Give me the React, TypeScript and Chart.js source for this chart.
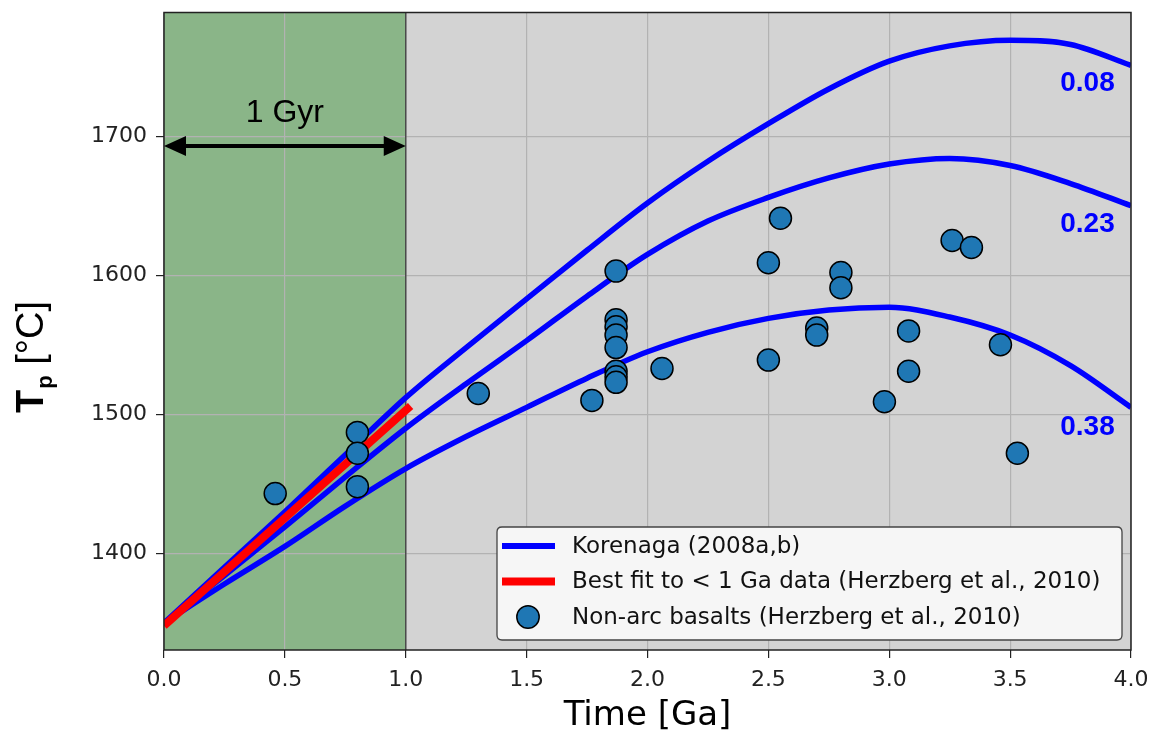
import React, { useEffect, useRef } from "react";
import { Chart, registerables } from "chart.js";

Chart.register(...registerables);

// ---- data ----
const xTickValues = [0, 0.5, 1, 1.5, 2, 2.5, 3, 3.5, 4];
const yTickValues = [1400, 1500, 1600, 1700];

const korenagaX = [0, 0.25, 0.5, 0.75, 1, 1.25, 1.5, 1.75, 2, 2.25, 2.5, 2.75, 3, 3.25, 3.5, 3.75, 4];
const korenaga008 = [1350, 1390, 1430, 1471, 1512, 1548, 1583, 1618, 1652, 1682, 1709, 1734, 1754, 1765, 1769, 1766, 1751];
const korenaga023 = [1350, 1384, 1419, 1455, 1490, 1522, 1553, 1585, 1615, 1639, 1656, 1670, 1680, 1684, 1679, 1666, 1650];
const korenaga038 = [1350, 1378, 1405, 1434, 1461, 1484, 1505, 1526, 1545, 1559, 1569, 1575, 1577, 1570, 1557, 1535, 1505];

const fitX = [0, 1.02];
const fitY = [1348, 1506];

const basaltX = [0.46, 0.8, 0.8, 0.8, 1.3, 1.77, 1.87, 1.87, 1.87, 1.87, 1.87, 1.87, 1.87, 1.87, 2.06, 2.5, 2.5, 2.55, 2.7, 2.7, 2.8, 2.8, 2.98, 3.08, 3.08, 3.26, 3.34, 3.46, 3.53];
const basaltY = [1443, 1487, 1472, 1448, 1515, 1510, 1603, 1568, 1563, 1557, 1548, 1531, 1527, 1523, 1533, 1609, 1539, 1641, 1562, 1557, 1602, 1591, 1509, 1560, 1531, 1625, 1620, 1550, 1472];

const curveLabels = ["0.08", "0.23", "0.38"];
const curveLabelX = [3.82, 3.82, 3.82];
const curveLabelY = [1738, 1637, 1491];

const legendLabels = [
  "Korenaga (2008a,b)",
  "Best fit to < 1 Ga data (Herzberg et al., 2010)",
  "Non-arc basalts (Herzberg et al., 2010)",
];

const BLUE = "#0000ff";
const RED = "#ff0000";
const PT = "#1f77b4";

const pts = (xs: number[], ys: number[]) => xs.map((x, i) => ({ x, y: ys[i] }));

const decorPlugin = {
  id: "decor",
  beforeDraw(chart: any) {
    const { ctx, chartArea: a, scales } = chart;
    const xs = scales.x;
    const x1 = xs.getPixelForValue(1);
    ctx.save();
    ctx.fillStyle = "#d3d3d3";
    ctx.fillRect(a.left, a.top, a.right - a.left, a.bottom - a.top);
    ctx.fillStyle = "#8ab588";
    ctx.fillRect(a.left, a.top, x1 - a.left, a.bottom - a.top);
    ctx.restore();
  },
  beforeDatasetsDraw(chart: any) {
    const { ctx, chartArea: a, scales } = chart;
    const x1 = scales.x.getPixelForValue(1);
    ctx.save();
    ctx.strokeStyle = "#4a4a4a";
    ctx.lineWidth = 1.5;
    ctx.beginPath();
    ctx.moveTo(x1, a.top);
    ctx.lineTo(x1, a.bottom);
    ctx.stroke();
    ctx.restore();
  },
  afterDatasetsDraw(chart: any) {
    const { ctx, chartArea: a, scales } = chart;
    const xs = scales.x;
    const ys = scales.y;
    ctx.save();
    // spines
    ctx.strokeStyle = "#222";
    ctx.lineWidth = 1.5;
    ctx.strokeRect(a.left, a.top, a.right - a.left, a.bottom - a.top);

    // arrow
    const ay = ys.getPixelForValue(1693);
    const ax0 = xs.getPixelForValue(0);
    const ax1 = xs.getPixelForValue(1);
    const hl = 22;
    const hw = 10;
    ctx.strokeStyle = "#000";
    ctx.fillStyle = "#000";
    ctx.lineWidth = 4;
    ctx.beginPath();
    ctx.moveTo(ax0 + hl - 2, ay);
    ctx.lineTo(ax1 - hl + 2, ay);
    ctx.stroke();
    ctx.beginPath();
    ctx.moveTo(ax0, ay);
    ctx.lineTo(ax0 + hl, ay - hw);
    ctx.lineTo(ax0 + hl, ay + hw);
    ctx.closePath();
    ctx.fill();
    ctx.beginPath();
    ctx.moveTo(ax1, ay);
    ctx.lineTo(ax1 - hl, ay - hw);
    ctx.lineTo(ax1 - hl, ay + hw);
    ctx.closePath();
    ctx.fill();

    ctx.font = "32px 'Liberation Sans', Arial, sans-serif";
    ctx.textAlign = "center";
    ctx.textBaseline = "alphabetic";
    ctx.fillText("1 Gyr", xs.getPixelForValue(0.5), ys.getPixelForValue(1710));

    // curve labels
    ctx.fillStyle = BLUE;
    ctx.font = "bold 28px 'Liberation Sans', Arial, sans-serif";
    ctx.textBaseline = "middle";
    curveLabels.forEach((t, i) => {
      ctx.fillText(t, xs.getPixelForValue(curveLabelX[i]), ys.getPixelForValue(curveLabelY[i]));
    });
    ctx.restore();
  },
  afterDraw(chart: any) {
    const { ctx, chartArea: a } = chart;
    ctx.save();
    // legend
    const lx = 497, ly = 527, lw = 625, lh = 113, r = 5;
    ctx.fillStyle = "rgba(246,246,246,1)";
    ctx.strokeStyle = "#444";
    ctx.lineWidth = 1.3;
    ctx.beginPath();
    ctx.moveTo(lx + r, ly);
    ctx.lineTo(lx + lw - r, ly);
    ctx.quadraticCurveTo(lx + lw, ly, lx + lw, ly + r);
    ctx.lineTo(lx + lw, ly + lh - r);
    ctx.quadraticCurveTo(lx + lw, ly + lh, lx + lw - r, ly + lh);
    ctx.lineTo(lx + r, ly + lh);
    ctx.quadraticCurveTo(lx, ly + lh, lx, ly + lh - r);
    ctx.lineTo(lx, ly + r);
    ctx.quadraticCurveTo(lx, ly, lx + r, ly);
    ctx.closePath();
    ctx.fill();
    ctx.stroke();

    const rows = [546, 581.5, 617];
    ctx.lineCap = "butt";
    ctx.strokeStyle = BLUE;
    ctx.lineWidth = 6;
    ctx.beginPath();
    ctx.moveTo(502, rows[0]);
    ctx.lineTo(555, rows[0]);
    ctx.stroke();
    ctx.strokeStyle = RED;
    ctx.lineWidth = 8;
    ctx.beginPath();
    ctx.moveTo(502, rows[1]);
    ctx.lineTo(555, rows[1]);
    ctx.stroke();
    ctx.fillStyle = PT;
    ctx.strokeStyle = "#000";
    ctx.lineWidth = 1.5;
    ctx.beginPath();
    ctx.arc(528, rows[2], 11.2, 0, Math.PI * 2);
    ctx.fill();
    ctx.stroke();

    ctx.fillStyle = "#111";
    ctx.font = "23px 'DejaVu Sans', sans-serif";
    ctx.textAlign = "left";
    ctx.textBaseline = "middle";
    legendLabels.forEach((t, i) => ctx.fillText(t, 572, rows[i] + 1));

    // x title
    ctx.fillStyle = "#000";
    ctx.font = "34px 'DejaVu Sans', sans-serif";
    ctx.textAlign = "center";
    ctx.textBaseline = "middle";
    ctx.fillText("Time [Ga]", (a.left + a.right) / 2, 716);

    // y title
    ctx.translate(43, 413);
    ctx.rotate(-Math.PI / 2);
    ctx.textAlign = "left";
    ctx.textBaseline = "alphabetic";
    ctx.font = "bold 38px 'Liberation Sans', Arial, sans-serif";
    ctx.fillText("T", 0, 0);
    const wT = ctx.measureText("T").width;
    ctx.font = "bold 22px 'Liberation Sans', Arial, sans-serif";
    ctx.fillText("p", wT + 1, 9);
    const wp = ctx.measureText("p").width;
    ctx.font = "38px 'Liberation Sans', Arial, sans-serif";
    ctx.fillText(" [°C]", wT + wp + 1, 0);
    ctx.restore();
  },
};

export default function App() {
  const ref = useRef<HTMLCanvasElement | null>(null);
  useEffect(() => {
    if (!ref.current) return;
    const tickFont = { family: "'DejaVu Sans', sans-serif", size: 22 };
    const lineDs = (label: string, ys: number[]) => ({
      type: "line" as const,
      label,
      data: pts(korenagaX, ys),
      borderColor: BLUE,
      backgroundColor: BLUE,
      borderWidth: 5.5,
      pointRadius: 0,
      cubicInterpolationMode: "monotone" as const,
      fill: false,
      order: 3,
    });
    const chart = new Chart(ref.current, {
      type: "scatter",
      data: {
        datasets: [
          lineDs("0.08", korenaga008),
          lineDs("0.23", korenaga023),
          lineDs("0.38", korenaga038),
          {
            type: "line",
            label: "fit",
            data: pts(fitX, fitY),
            borderColor: RED,
            backgroundColor: RED,
            borderWidth: 8,
            pointRadius: 0,
            fill: false,
            order: 2,
          } as any,
          {
            type: "scatter",
            label: "basalts",
            data: pts(basaltX, basaltY),
            backgroundColor: PT,
            borderColor: "#000",
            borderWidth: 1.5,
            pointRadius: 11,
            pointHoverRadius: 11,
            order: 1,
          } as any,
        ] as any,
      },
      options: {
        animation: false,
        responsive: false,
        maintainAspectRatio: false,
        events: [],
        layout: { padding: { top: 9, right: 26, left: 0, bottom: 0 } },
        plugins: { legend: { display: false }, tooltip: { enabled: false } },
        scales: {
          x: {
            type: "linear",
            min: 0,
            max: 4,
            afterBuildTicks: (s: any) => {
              s.ticks = xTickValues.map((v) => ({ value: v }));
            },
            afterFit: (s: any) => {
              s.height = 86;
              s.paddingLeft = 0;
              s.paddingRight = 0;
            },
            ticks: {
              callback: (v: any) => Number(v).toFixed(1),
              font: tickFont,
              color: "#222",
              padding: 9,
              maxRotation: 0,
              autoSkip: false,
            },
            grid: { color: "#b2b2b2", lineWidth: 1.2, tickColor: "#222", tickLength: 8, drawTicks: true },
            border: { display: false },
          },
          y: {
            type: "linear",
            min: 1330.5,
            max: 1789,
            afterBuildTicks: (s: any) => {
              s.ticks = yTickValues.map((v) => ({ value: v }));
            },
            afterFit: (s: any) => {
              s.width = 164;
              s.paddingTop = 0;
              s.paddingBottom = 0;
            },
            ticks: {
              callback: (v: any) => String(v),
              font: tickFont,
              color: "#222",
              padding: 9,
              autoSkip: false,
            },
            grid: { color: "#b2b2b2", lineWidth: 1.2, tickColor: "#222", tickLength: 8, drawTicks: true },
            border: { display: false },
          },
        },
      } as any,
      plugins: [decorPlugin],
    });
    return () => chart.destroy();
  }, []);
  return (
    <div style={{ position: "absolute", left: 0, top: 0, width: 1157, height: 736, background: "#fff" }}>
      <canvas ref={ref} width={1157} height={736} style={{ width: 1157, height: 736 }} />
    </div>
  );
}
